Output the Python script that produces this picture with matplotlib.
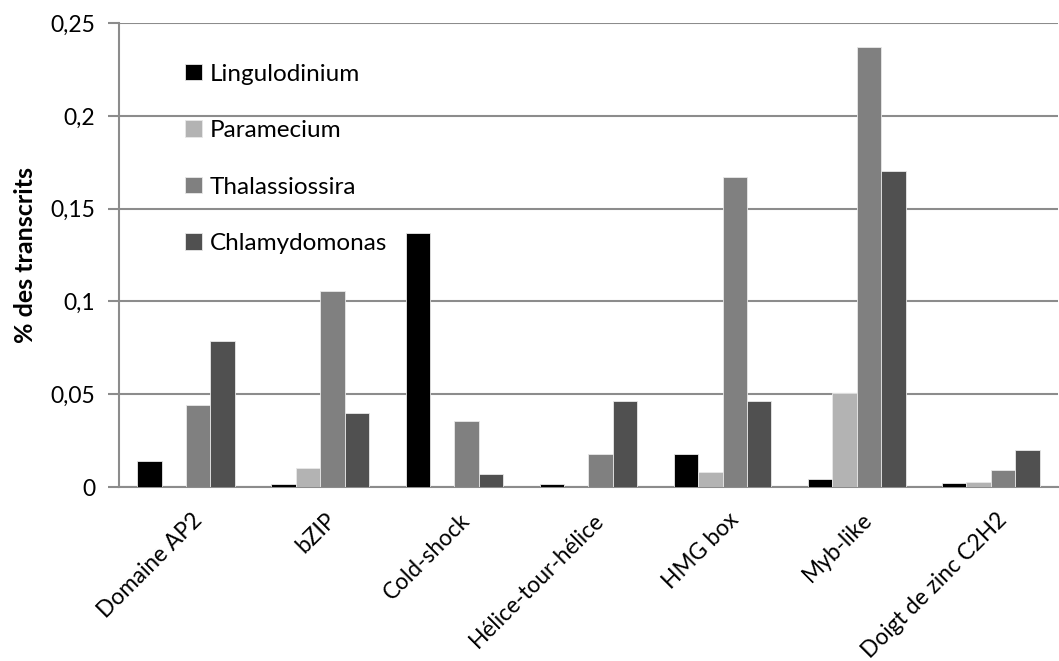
import numpy as np
import matplotlib.pyplot as plt
from matplotlib.ticker import FuncFormatter
from matplotlib.transforms import ScaledTranslation

# data
categories = ["Domaine AP2", "bZIP", "Cold-shock", "Hélice-tour-hélice",
              "HMG box", "Myb-like", "Doigt de zinc C2H2"]
series_names = ["Lingulodinium", "Paramecium", "Thalassiossira", "Chlamydomonas"]
lingulodinium = [0.0138, 0.0018, 0.1370, 0.0015, 0.0178, 0.0043, 0.0020]
paramecium = [0.0, 0.0104, 0.0, 0.0, 0.0079, 0.0508, 0.0027]
thalassiossira = [0.0440, 0.1055, 0.0354, 0.0180, 0.1669, 0.2369, 0.0092]
chlamydomonas = [0.0787, 0.0397, 0.0068, 0.0463, 0.0463, 0.1704, 0.0199]
colors = ["#000000", "#b3b3b3", "#808080", "#505050"]


def main():
    plt.rcParams['font.family'] = ['Lato', 'DejaVu Sans']

    fig = plt.figure(figsize=(10.59, 6.61), dpi=100)
    ax = fig.add_axes([0.1124, 0.2632, 0.8866, 0.7018])

    values = [lingulodinium, paramecium, thalassiossira, chlamydomonas]
    x = np.arange(len(categories))
    width = 1 / 5.5
    for i, (name, vals) in enumerate(zip(series_names, values)):
        offset = (i - 1.5) * width
        ax.bar(x + offset, vals, width, color=colors[i], label=name,
               edgecolor='#e8e8e8', linewidth=0.6, zorder=3)

    # axes styling like the spreadsheet original
    ax.set_xlim(-0.5, len(categories) - 0.5)
    ax.set_ylim(0, 0.25)
    ax.set_yticks(np.arange(0, 0.2501, 0.05))
    ax.yaxis.set_major_formatter(FuncFormatter(
        lambda v, p: "0" if abs(v) < 1e-9 else ("%g" % round(v, 2)).replace('.', ',')))
    ax.grid(axis='y', color='#8c8c8c', linewidth=1.5, zorder=0)
    for side in ['top', 'right']:
        ax.spines[side].set_visible(False)
    for side in ['left', 'bottom']:
        ax.spines[side].set_color('#8c8c8c')
        ax.spines[side].set_linewidth(1.5)
    ax.tick_params(axis='y', length=8, width=1.5, color='#8c8c8c',
                   labelsize=16.5, pad=9)
    ax.tick_params(axis='x', length=0, labelsize=16.3, pad=16)

    ax.set_xticks(x)
    ax.set_xticklabels(categories, rotation=45, ha='right',
                       rotation_mode='anchor')
    # nudge the slanted labels a little to the right
    shift = ScaledTranslation(5 / 100, 0, fig.dpi_scale_trans)
    for lbl in ax.get_xticklabels():
        lbl.set_transform(lbl.get_transform() + shift)
    ax.set_ylabel("% des transcrits", fontsize=18, fontweight='bold',
                  labelpad=10)

    ax.legend(loc='upper left', bbox_to_anchor=(0.047, 0.96), frameon=False,
              fontsize=17.5, labelspacing=1.46, handlelength=0.68,
              handleheight=0.68, handletextpad=0.35)

    fig.savefig("out.png", dpi=100)


if __name__ == "__main__":
    main()
